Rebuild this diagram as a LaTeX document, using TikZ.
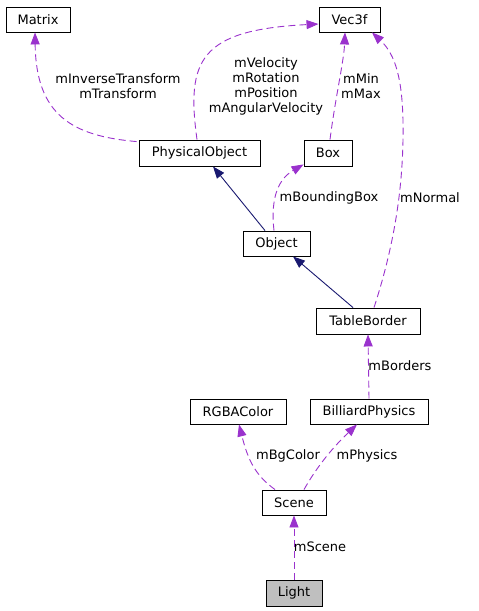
\documentclass[tikz,border=0pt]{standalone}
\usepackage{fontspec}
\setmainfont{DejaVu Sans}
\usetikzlibrary{arrows.meta}
\definecolor{edgepurple}{HTML}{9A32CD}
\definecolor{edgenavy}{HTML}{191970}
\definecolor{lightgray}{HTML}{BFBFBF}
\tikzset{
  cls/.style={draw=black, line width=0.9pt, minimum height=25pt, inner sep=0pt, font=\fontsize{13}{15}\selectfont},
  usage/.style={draw=edgepurple, line width=0.9pt, dash pattern=on 7pt off 4pt, -{Triangle[length=12pt,width=9pt]}},
  inherit/.style={draw=edgenavy, line width=0.9pt, -{Triangle[length=12pt,width=9pt]}},
  lbl/.style={font=\fontsize{13}{15}\selectfont, align=center, inner sep=0pt}
}
\begin{document}
\begin{tikzpicture}[x=1pt,y=-1pt]
\useasboundingbox (0,0) rectangle (479,611);
% classes
\node[cls, minimum width=64pt] (Matrix) at (38,19.5) {Matrix};
\node[cls, minimum width=61pt] (Vec) at (349.5,19.5) {Vec3f};
\node[cls, minimum width=121pt, minimum height=26pt] (PO) at (199.5,153) {PhysicalObject};
\node[cls, minimum width=48pt, minimum height=26pt] (Box) at (328,153) {Box};
\node[cls, minimum width=67pt] (Obj) at (276.5,243.5) {Object};
\node[cls, minimum width=104pt, minimum height=26pt] (TB) at (368,321) {TableBorder};
\node[cls, minimum width=96pt] (RGBA) at (238,411.5) {RGBAColor};
\node[cls, minimum width=118pt] (BP) at (369,411.5) {BilliardPhysics};
\node[cls, minimum width=64pt] (Scene) at (294,502.5) {Scene};
\node[cls, minimum width=56pt, minimum height=26pt, fill=lightgray] (Light) at (294,593) {Light};
% edges
\draw[usage] ([xshift=-2pt,yshift=-2pt]PO.north west) .. controls (72,136) and (36,115) .. ([xshift=-3pt]Matrix.south);
\draw[usage] ([xshift=-2.5pt]PO.north) .. controls (186,60) and (200,30) .. ([yshift=-4.5pt]Vec.west);
\draw[usage] ([xshift=2pt]Box.north) .. controls (335,100) and (344,60) .. ([xshift=-4.5pt]Vec.south);
\draw[usage] ([xshift=6pt]TB.north) .. controls (396,240) and (404,180) .. (403,120) .. controls (402,80) and (396,55) .. ([xshift=22.5pt]Vec.south);
\draw[usage] ([xshift=-2.5pt]Obj.north) .. controls (270,195) and (280,178) .. ([yshift=2pt]Box.south west);
\draw[inherit] ([xshift=-11.5pt]Obj.north) -- ([xshift=13.5pt]PO.south);
\draw[inherit] ([xshift=-15pt]TB.north) -- ([xshift=16.5pt]Obj.south);
\draw[usage] (BP.north) -- (TB.south);
\draw[usage] ([xshift=-19pt]Scene.north) .. controls (255,475) and (248,460) .. ([xshift=1pt]RGBA.south);
\draw[usage] ([xshift=10pt]Scene.north) .. controls (315,470) and (330,450) .. ([xshift=-12pt]BP.south);
\draw[usage] (Light.north) -- (Scene.south);
% labels
\node[lbl] (l1) at (118,86) {mInverseTransform\\mTransform};
\node[lbl] (l2) at (266,86) {mVelocity\\mRotation\\mPosition\\mAngularVelocity};
\node[lbl] (l3) at (361,86) {mMin\\mMax};
\node[lbl] (l4) at (329,198) {mBoundingBox};
\node[lbl] (l5) at (430,198) {mNormal};
\node[lbl] (l6) at (400,366) {mBorders};
\node[lbl] (l7) at (288,456) {mBgColor};
\node[lbl] (l8) at (367,456) {mPhysics};
\node[lbl] (l9) at (320,547) {mScene};
\end{tikzpicture}
\end{document}
